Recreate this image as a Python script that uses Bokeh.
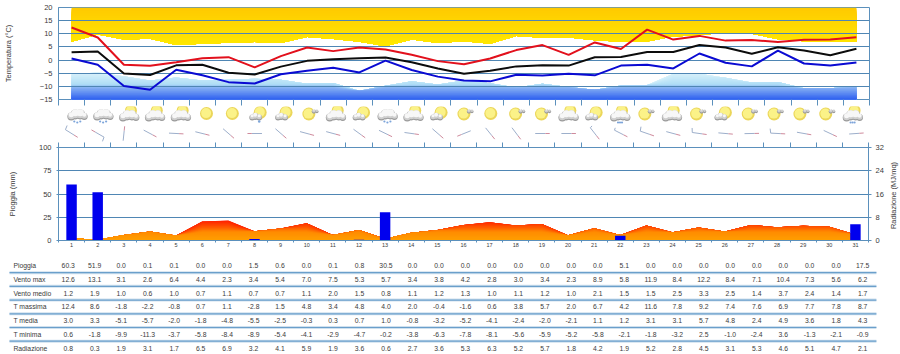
import math
import numpy as np
from bokeh.plotting import figure
from bokeh.layouts import column, row
from bokeh.embed import file_html
from bokeh.resources import INLINE
from bokeh.models import Range1d, FixedTicker, LinearAxis
from bokeh.core.properties import value

days = list(range(1, 32))
pioggia = [60.3, 51.9, 0.0, 0.1, 0.1, 0.0, 0.0, 1.5, 0.6, 0.0, 0.1, 0.8, 30.5, 0.0, 0.0,
           0.0, 0.0, 0.0, 0.0, 0.0, 0.0, 5.1, 0.0, 0.0, 0.0, 0.0, 0.0, 0.0, 0.0, 0.0, 17.5]
vento_max = [12.6, 13.1, 3.1, 2.6, 6.4, 4.4, 2.3, 3.4, 5.4, 7.0, 7.5, 5.3, 5.7, 3.4, 3.8,
             4.2, 2.8, 3.0, 3.4, 2.3, 8.9, 5.8, 11.9, 8.4, 12.2, 8.4, 7.1, 10.4, 7.3, 5.6, 6.2]
vento_medio = [1.2, 1.9, 1.0, 0.6, 1.0, 0.7, 1.1, 0.7, 0.7, 1.1, 2.0, 1.5, 0.8, 1.1, 1.2,
               1.3, 1.0, 1.1, 1.2, 1.0, 2.1, 1.5, 1.5, 2.5, 3.3, 2.5, 1.4, 3.7, 2.4, 1.4, 1.7]
t_massima = [12.4, 8.6, -1.8, -2.2, -0.8, 0.7, 1.1, -2.8, 1.5, 4.8, 3.4, 4.8, 4.0, 2.0, -0.4,
             -1.6, 0.6, 3.8, 5.7, 2.0, 6.7, 4.2, 11.6, 7.8, 9.2, 7.4, 7.6, 6.9, 7.7, 7.8, 8.7]
t_media = [3.0, 3.3, -5.1, -5.7, -2.0, -1.8, -4.8, -5.5, -2.5, -0.3, 0.3, 0.7, 1.0, -0.8, -3.2,
           -5.2, -4.1, -2.4, -2.0, -2.1, 1.1, 1.2, 3.1, 3.1, 5.7, 4.8, 2.4, 4.9, 3.6, 1.8, 4.3]
t_minima = [0.6, -1.8, -9.9, -11.3, -3.7, -5.8, -8.4, -8.9, -5.4, -4.1, -2.9, -4.7, -0.2, -3.8, -6.3,
            -7.8, -8.1, -5.6, -5.9, -5.2, -5.8, -2.1, -1.8, -3.2, 2.5, -1.0, -2.4, 3.6, -1.3, -2.1, -0.9]
radiazione = [0.8, 0.3, 1.9, 3.1, 1.7, 6.5, 6.9, 3.2, 4.1, 5.9, 1.9, 3.6, 0.6, 2.7, 3.6,
              5.3, 6.3, 5.2, 5.7, 1.8, 4.2, 1.9, 5.2, 2.8, 4.5, 3.1, 5.3, 4.6, 5.1, 4.7, 2.1]
clima_max = [7.0, 9.7, 7.8, 8.1, 5.7, 6.2, 6.6, 6.9, 6.5, 8.8, 8.0, 7.0, 5.3, 7.8, 6.5,
             7.2, 6.2, 9.2, 8.5, 8.6, 7.5, 7.0, 7.1, 9.0, 9.4, 10.5, 10.0, 7.9, 7.2, 7.2, 7.2]
clima_min = [-5.5, -4.6, -6.2, -7.8, -6.6, -7.8, -7.5, -7.1, -7.5, -9.0, -8.7, -11.7, -9.8, -8.1, -9.3,
             -7.8, -8.8, -10.4, -9.0, -10.2, -11.3, -9.7, -9.5, -5.2, -5.2, -6.7, -8.5, -8.3, -10.7, -10.7, -9.9]
# heading of the wind mark, degrees clockwise from the right on screen
vento_dir = [32, 210, 276, 28, 3, 14, 41, 180, 41, 15, 15, 36, 26, 8, 41,
             158, 51, 53, 0, 0, 52, 27, 19, 15, 8, 5, 359, 3, 10, 25, 356]
cielo = ["R", "R", "PC", "PC", "PC", "S", "S", "SD", "SC", "SW", "PC", "SC", "R", "PC", "SC",
         "SW", "S", "SW", "SW", "PC", "SC", "PR", "SW", "PC", "SW", "SC", "SW", "SW", "SW", "SW", "PR"]
barb_days = [1, 2, 21, 22, 23, 25, 28]
righe = [("Pioggia", pioggia), ("Vento max", vento_max), ("Vento medio", vento_medio),
         ("T massima", t_massima), ("T media", t_media), ("T minima", t_minima), ("Radiazione", radiazione)]
temp_ticks = [-15, -10, -5, 0, 5, 10, 15, 20]
rain_ticks = [0, 25, 50, 75, 100]
rad_ticks = [0, 8, 16, 24, 32]

BLUE = "#5B90BC"
FONT = "Liberation Sans"
TXT = "#3A3A3A"
boundaries = [d + 0.5 for d in range(0, 32)]
x = np.array(days, dtype=float)


def lerp(stops, v):
    for (a, ca), (b, cb) in zip(stops, stops[1:]):
        if a <= v <= b:
            t = (v - a) / (b - a)
            return "#%02x%02x%02x" % tuple(int(round(p + (q - p) * t)) for p, q in zip(ca, cb))
    return "#%02x%02x%02x" % stops[-1][1]


def style_axis(ax, size="7.5px"):
    ax.axis_line_color = BLUE
    ax.major_tick_line_color = BLUE
    ax.minor_tick_line_color = None
    ax.major_label_text_font = FONT
    ax.major_label_text_font_size = size
    ax.major_label_text_color = TXT
    ax.axis_label_text_font = FONT
    ax.axis_label_text_font_size = "7.5px"
    ax.axis_label_text_font_style = "normal"
    ax.axis_label_text_color = TXT


def boundary_axis(p, place, out):
    ax = LinearAxis(ticker=FixedTicker(ticks=boundaries))
    style_axis(ax, "0px")
    ax.major_tick_out = out
    ax.major_tick_in = 0
    ax.major_label_standoff = 0
    ax.major_label_text_color = None
    ax.axis_line_color = None
    p.add_layout(ax, place)


# ---------- temperature panel ----------
a = figure(width=900, height=106, x_range=Range1d(0.5, 31.5), y_range=Range1d(-15, 20),
           output_backend="svg", toolbar_location=None, frame_align=False,
           min_border_left=58, min_border_right=31, min_border_top=7, min_border_bottom=7,
           x_axis_location=None, y_axis_label="Temperatura (°C)")
a.outline_line_color = BLUE
a.xgrid.visible = False
a.ygrid.ticker = FixedTicker(ticks=temp_ticks)
a.ygrid.grid_line_color = "#4F86B4"
a.ygrid.grid_line_width = 1
style_axis(a.yaxis[0])
a.yaxis[0].ticker = FixedTicker(ticks=temp_ticks)
a.yaxis[0].major_tick_out = 0
a.yaxis[0].major_tick_in = 0
a.yaxis[0].major_label_standoff = 6
a.yaxis[0].axis_label_standoff = 24
boundary_axis(a, "below", 6)

yellow = [(5, (255, 234, 0)), (20, (255, 202, 0))]
cmax = np.array(clima_max)
for hi in np.arange(20, 4.5, -0.5):
    r = a.varea(x=x, y1=cmax, y2=np.maximum(cmax, hi), fill_color=lerp(yellow, float(hi)))
    r.level = "image"
sky = [(-15, (44, 94, 240)), (-10.3, (136, 178, 243)), (-9, (176, 222, 246)), (-4, (224, 245, 251))]
cmin = np.array(clima_min)
for hi in np.arange(-4, -15.25, -0.25):
    r = a.varea(x=x, y1=np.full(31, -15.0), y2=np.minimum(cmin, hi), fill_color=lerp(sky, float(hi)))
    r.level = "image"
a.line(x, t_massima, line_color="#E2101C", line_width=2)
a.line(x, t_media, line_color="#0C0C0C", line_width=2)
a.line(x, t_minima, line_color="#0A0AD2", line_width=2)

# ---------- sky icons and wind marks ----------
b = figure(width=900, height=36, x_range=Range1d(0.5, 31.5), y_range=Range1d(36, 0),
           output_backend="svg", toolbar_location=None, x_axis_location=None, y_axis_location=None,
           frame_align=False,
           min_border_left=58, min_border_right=31, min_border_top=0, min_border_bottom=0)
b.outline_line_color = None
b.grid.visible = False

layers = {k: ([], [], []) for k in ["sun_e", "sun_c", "c_d", "c_m", "c_l", "drop"]}
colors = {"sun_e": "#EBD65A", "sun_c": "#FBF288", "c_d": "#9A9A9A", "c_m": "#CFCFCF",
          "c_l": "#F7F7F7", "drop": "#7DA5DA"}
PX = 811 / 31


def blob(layer, cx, cy, dx, dy, s):
    layers[layer][0].append(cx + dx / PX)
    layers[layer][1].append(cy + dy)
    layers[layer][2].append(s)


def sun(cx, cy, dx, dy, s):
    blob("sun_e", cx, cy, dx, dy, s)
    blob("sun_c", cx, cy, dx - 0.4, dy - 0.4, s - 3)


def cloud(cx, cy, puffs):
    for l, off, grow in (("c_d", 1.1, 0.8), ("c_m", 0.3, 0), ("c_l", -0.7, -2)):
        for dx, dy, s in puffs:
            blob(l, cx, cy, dx, dy + off, s + grow)


BIG = [(-6, 3, 7), (-2, 1, 9), (3, 1, 9), (7, 3, 6)]
SMALL = [(-6, 3, 5), (-3, 2, 6), (1, 3, 5)]
WISP = [(4, -3, 3.5), (7, -3, 2.5)]
for d, kind in zip(days, cielo):
    cx = d + (5.7 - 0.317 * (d - 1)) / PX
    cy = 7
    if kind == "S":
        sun(cx, cy, 0, 0, 13)
    elif kind == "SW":
        sun(cx, cy, -1, 0.5, 13)
        cloud(cx, cy, WISP)
    elif kind in ("SC", "SD"):
        sun(cx, cy, 2, -1, 13)
        cloud(cx, cy, SMALL)
        if kind == "SD":
            blob("drop", cx, cy, 1, 8, 2.5)
    elif kind in ("PC", "PR"):
        sun(cx, cy, 2, -3, 12)
        cloud(cx, cy, BIG)
        if kind == "PR":
            for dx in (-2, 0, 2):
                blob("drop", cx, cy, dx, 9, 2.2)
    else:
        cloud(cx, cy, [(p[0], p[1] - 1, p[2]) for p in BIG])
        for dx, dy in ((-3, 8), (0, 9), (3, 8)):
            blob("drop", cx, cy, dx, dy, 2.2)
for k, (xs, ys, ss) in layers.items():
    b.scatter(xs, ys, size=ss, marker="circle", fill_color=colors[k], line_color=None)

LEN = 14.5
gx0, gy0, gx1, gy1, rx1, ry1 = [], [], [], [], [], []
bx0, by0, bx1, by1 = [], [], [], []
for d, h, vm in zip(days, vento_dir, vento_max):
    ca, sa = math.cos(math.radians(h)), math.sin(math.radians(h))
    tx, ty = d - LEN / 2 * ca / PX, 27 - LEN / 2 * sa
    hx, hy = d + LEN / 2 * ca / PX, 27 + LEN / 2 * sa
    mx, my = d + 0.2 * LEN * ca / PX, 27 + 0.2 * LEN * sa
    gx0.append(tx); gy0.append(ty); gx1.append(mx); gy1.append(my)
    rx1.append(hx); ry1.append(hy)
    if d in barb_days:
        L = 4.5 if vm > 10 else 2.5
        ba = math.radians(h - 100)
        bx0.append(tx); by0.append(ty)
        bx1.append(tx + L * math.cos(ba) / PX); by1.append(ty + L * math.sin(ba))
b.segment(gx0, gy0, gx1, gy1, line_color="#9DAFCB", line_width=1)
b.segment(gx1, gy1, rx1, ry1, line_color="#CF8A9C", line_width=1)
b.segment(bx0, by0, bx1, by1, line_color="#9DAFCB", line_width=1)

# ---------- rain and radiation panel ----------
c = figure(width=886, height=107, x_range=Range1d(0.5, 31.5), y_range=Range1d(0, 100),
           output_backend="svg", toolbar_location=None, frame_align=False,
           min_border_left=58, min_border_right=16, min_border_top=5, min_border_bottom=8,
           y_axis_label="Pioggia (mm)")
c.extra_y_ranges = {"rad": Range1d(0, 32)}
c.outline_line_color = BLUE
c.xgrid.visible = False
c.ygrid.ticker = FixedTicker(ticks=rain_ticks)
c.ygrid.grid_line_color = "#4F86B4"
style_axis(c.yaxis[0])
c.yaxis[0].ticker = FixedTicker(ticks=rain_ticks)
c.yaxis[0].major_tick_out = 2
c.yaxis[0].major_tick_in = 0
c.yaxis[0].major_label_standoff = 5
c.yaxis[0].axis_label_standoff = 19
xa = c.xaxis[0]
style_axis(xa, "5.5px")
xa.ticker = FixedTicker(ticks=days, minor_ticks=boundaries)
xa.major_label_overrides = {d: str(d) for d in days}
xa.major_tick_out = 0
xa.major_tick_in = 0
xa.minor_tick_line_color = BLUE
xa.minor_tick_out = 2
xa.minor_tick_in = 0
xa.major_label_standoff = 0
boundary_axis(c, "above", 5)
ra = LinearAxis(y_range_name="rad", ticker=FixedTicker(ticks=rad_ticks))
style_axis(ra)
ra.major_tick_out = 3
ra.major_tick_in = 0
ra.major_label_standoff = 4
c.add_layout(ra, "right")

fire = [(0, (255, 160, 0)), (3, (255, 140, 0)), (5, (255, 80, 0)), (7, (255, 30, 0))]
rad = np.array(radiazione)
for hi in np.arange(7, -0.1, -0.2):
    c.varea(x=x, y1=np.zeros(31), y2=np.minimum(rad, hi), fill_color=lerp(fire, float(hi)), y_range_name="rad")
c.vbar(x=days, top=pioggia, bottom=0, width=0.4, fill_color="#0000EE", line_color=None)

# narrow strip beside the panel that holds the upward-reading right title
t = figure(width=14, height=107, x_range=Range1d(0, 14), y_range=Range1d(107, 0),
           output_backend="svg", toolbar_location=None, x_axis_location=None, y_axis_location=None,
           frame_align=False, min_border_left=0, min_border_right=0, min_border_top=0, min_border_bottom=0)
t.outline_line_color = None
t.grid.visible = False
t.text([7], [53], text=["Radiazione (MJ/mq)"], angle=math.pi / 2, text_align="center", text_baseline="middle",
       text_font=value(FONT), text_font_size="7.5px", text_color=TXT)

# ---------- table ----------
d_ = figure(width=900, height=105, x_range=Range1d(-1.557, 32.43), y_range=Range1d(6.47, -1.19),
            output_backend="svg", toolbar_location=None, x_axis_location=None, y_axis_location=None,
            frame_align=False,
            min_border_left=0, min_border_right=0, min_border_top=0, min_border_bottom=0)
d_.outline_line_color = None
d_.grid.visible = False
sep = [i + 0.5 for i in range(6)]
d_.segment([-1.217] * 6, sep, [31.52] * 6, sep, line_color="#CFE0EE", line_width=3)
d_.segment([-1.217] * 6, sep, [31.52] * 6, sep, line_color="#6A9FCB", line_width=1.2)
for i, (name, vals) in enumerate(righe):
    d_.text([-1.07], [i], text=[name], text_font=value(FONT), text_font_size="6.8px",
            text_color=TXT, text_align="left", text_baseline="middle")
    d_.text(days, [i] * 31, text=["%.1f" % v for v in vals], text_font=value(FONT), text_font_size="6.8px",
            text_color=TXT, text_align="center", text_baseline="middle")

page = column(a, b, row(c, t, spacing=0), d_, spacing=0)
open("out.html", "w").write(file_html(page, INLINE))
